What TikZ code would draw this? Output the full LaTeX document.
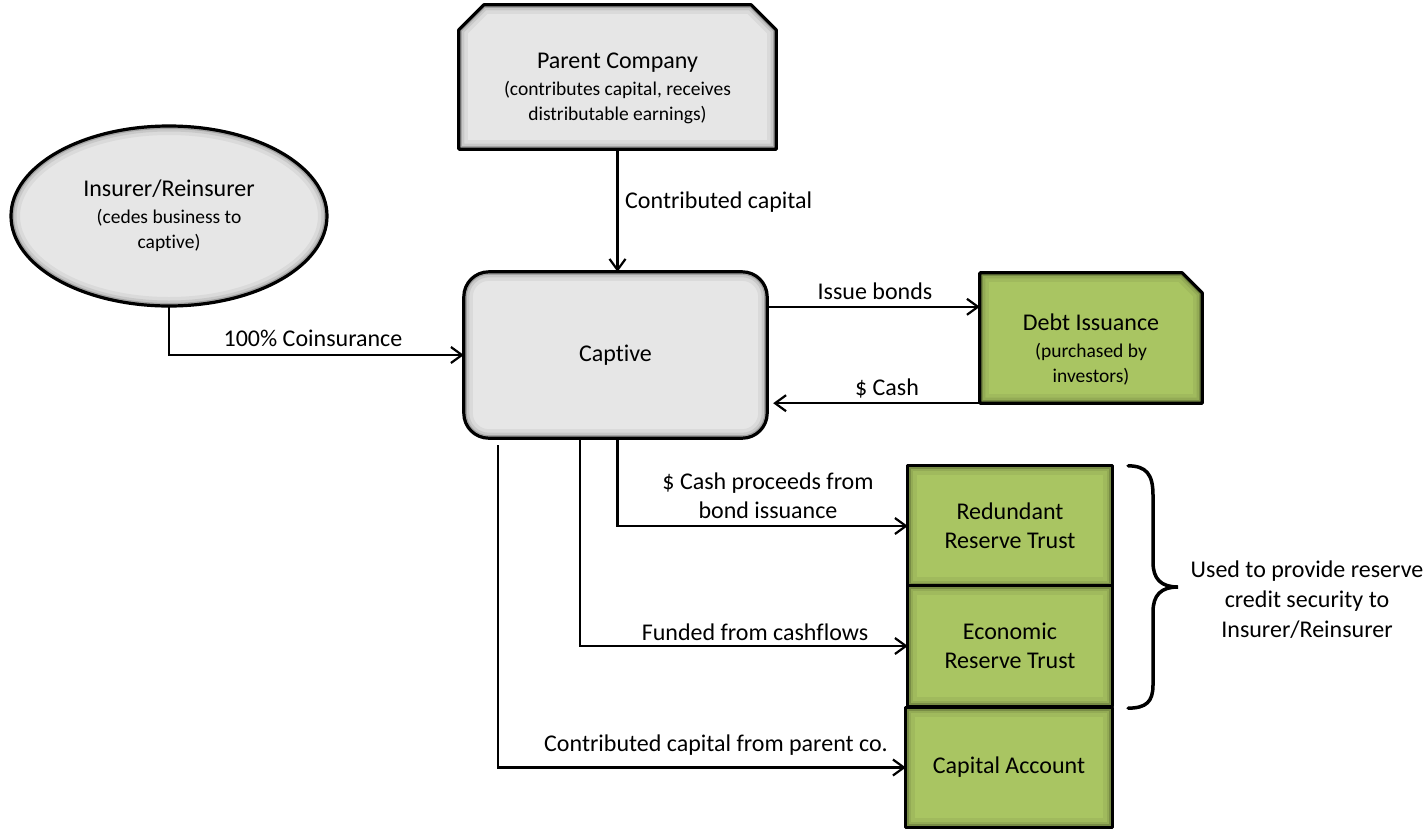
\documentclass[tikz,border=0pt]{standalone}
\usepackage{fontspec}
\setmainfont{Carlito}[Ligatures=NoCommon]
\usetikzlibrary{arrows.meta,calc,backgrounds}

\definecolor{boxgray}{RGB}{230,230,230}
\definecolor{boxgreen}{RGB}{169,197,98}

\newcommand\mainsz{\fontsize{24}{29}\selectfont}
\newcommand\subsz{\fontsize{19.5}{24}\selectfont}

% filled shape with a soft inner shadow and a heavy outline
\newcommand\bevelbox[3][]{%
  \fill[#2,#1] #3;
  \begin{scope}
    \clip[#1] #3;
    \draw[#1,line width=18pt,black,opacity=0.05] #3;
    \draw[#1,line width=11pt,black,opacity=0.08] #3;
    \draw[#1,line width=6pt,black,opacity=0.18] #3;
  \end{scope}
  \draw[#1,line width=3.2pt,line join=round] #3;
}

\tikzset{
  holder/.style={rectangle,draw=none,inner sep=0pt,align=center,font=\mainsz},
  conn/.style={line width=2.2pt,-{Straight Barb[length=11pt,width=16pt,line width=2.2pt]}},
  lbl/.style={inner sep=0pt,align=center,font=\mainsz},
}

\begin{document}
\begin{tikzpicture}[x=1pt,y=-1pt]
\useasboundingbox (0,0) rectangle (1427,828);

% ---- nodes (text areas) ----
\node[holder,minimum width=317pt,minimum height=121pt] (parent) at (617.5,88.5)
  {Parent Company\\[-2pt]{\subsz (contributes capital, receives}\\[-4pt]{\subsz distributable earnings)}};
\node[holder,minimum width=316pt,minimum height=180pt] (insurer) at (169,216)
  {Insurer/Reinsurer\\[-2pt]{\subsz (cedes business to}\\[-4pt]{\subsz captive)}};
\node[holder,minimum width=303pt,minimum height=166pt] (captive) at (615.5,355) {Captive};
\node[holder,minimum width=222pt,minimum height=106pt] (debt) at (1091,350)
  {Debt Issuance\\[-2pt]{\subsz (purchased by}\\[-4pt]{\subsz investors)}};
\node[holder,minimum width=204pt,minimum height=120pt] (redundant) at (1010,526)
  {Redundant\\Reserve Trust};
\node[holder,minimum width=204pt,minimum height=120pt] (economic) at (1010,646)
  {Economic\\Reserve Trust};
\node[holder,minimum width=206pt,minimum height=119pt] (capital) at (1009,767.5)
  {Capital Account};

% ---- shapes behind the text ----
\begin{scope}[on background layer]
  \bevelbox{boxgray}{(parent.south west) -- ($(parent.north west)+(0,2)$)
     -- ($(parent.north west)+(25,-23)$) -- ($(parent.north east)+(-25,-23)$)
     -- ($(parent.north east)+(0,2)$) -- (parent.south east) -- cycle}
  \bevelbox{boxgray}{(insurer.center) ellipse [x radius=158pt, y radius=90pt]}
  \bevelbox[rounded corners=25pt]{boxgray}{(captive.south west) rectangle (captive.north east)}
  \bevelbox{boxgreen}{(debt.south west) -- ($(debt.north west)+(0,-24)$)
     -- ($(debt.north east)+(-20,-24)$) -- ($(debt.north east)+(0,-4)$)
     -- (debt.south east) -- cycle}
  \bevelbox{boxgreen}{(redundant.south west) rectangle (redundant.north east)}
  \bevelbox{boxgreen}{(economic.south west) rectangle (economic.north east)}
  \bevelbox{boxgreen}{(capital.south west) rectangle (capital.north east)}
\end{scope}

% ---- connectors ----
\draw[conn] (parent.south) -- (parent.south |- captive.north);
\draw[conn] (insurer.south) |- (captive.west);
\coordinate (bondsin) at ($(debt.north west)+(0,10)$);
\draw[conn] (captive.east |- bondsin) -- (bondsin);
\draw[conn] (debt.south west) -- ($(captive.east |- debt.south west)+(6,0)$);
\draw[conn] ($(captive.south)+(2,0)$) |- (redundant.west);
\draw[conn] ($(captive.south)+(-35.5,0)$) |- (economic.west);
\draw[conn] ($(captive.south)+(-117.5,7)$) |- (capital.west);

% ---- connector labels ----
\node[lbl,anchor=west] (lcontrib) at (625,202) {Contributed capital};
\node[lbl] (lcoins) at (313,338) {100\% Coinsurance};
\node[lbl] (lbonds) at (875,291) {Issue bonds};
\node[lbl] (lcash) at (887,388) {\$ Cash};
\node[lbl] (lproceeds) at (768,496) {\$ Cash proceeds from\\bond issuance};
\node[lbl] (lfunded) at (755,632) {Funded from cashflows};
\node[lbl] (lparentco) at (716,745) {Contributed capital from parent co.};

% ---- brace grouping the two trusts ----
\coordinate (bracetop) at ($(redundant.north east)+(16,0)$);
\coordinate (bracebot) at ($(economic.south east)+(16,2)$);
\coordinate (bracetip) at (1178,587);
\draw[line width=3.5pt,line cap=round]
  (bracetop) .. controls (1146,466) and (1153,474) .. (1153,495)
  -- (1153,562) .. controls (1153,579) and (1161,587) .. (bracetip)
  .. controls (1161,587) and (1153,595) .. (1153,612)
  -- (1153,685) .. controls (1153,702) and (1146,708) .. (bracebot);
\node[lbl,font=\fontsize{24}{30}\selectfont] (uselbl) at (1307,600)
  {Used to provide reserve\\credit security to\\Insurer/Reinsurer};
\end{tikzpicture}
\end{document}
